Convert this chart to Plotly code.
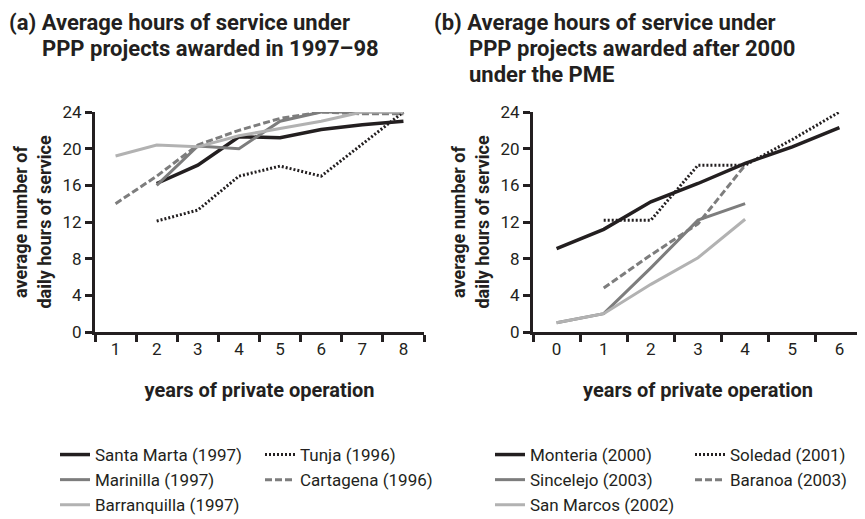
import plotly.graph_objects as go
from plotly.subplots import make_subplots

# panel (a): PPP projects awarded in 1997-98, years of private operation 1..8
years_a = [1, 2, 3, 4, 5, 6, 7, 8]
santa_marta = [None, 16.2, 18.2, 21.3, 21.2, 22.1, 22.6, 23.0]
tunja = [None, 12.1, 13.3, 17.0, 18.1, 17.0, 20.5, 24.0]
marinilla = [None, 16.0, 20.3, 20.0, 23.0, 24.0, 24.0, 24.0]
cartagena = [14.0, 17.0, 20.4, 22.0, 23.3, 24.0, 23.8, 23.8]
barranquilla = [19.2, 20.4, 20.2, 21.4, 22.2, 23.0, 24.0, 24.0]

# panel (b): PPP projects awarded after 2000 under the PME, years 0..6
years_b = [0, 1, 2, 3, 4, 5, 6]
monteria = [9.1, 11.2, 14.2, 16.2, 18.4, 20.2, 22.3]
soledad = [None, 12.2, 12.2, 18.2, 18.2, 21.0, 24.0]
sincelejo = [1.0, 2.0, 7.0, 12.2, 14.0, None, None]
baranoa = [None, 4.8, 8.4, 11.8, 18.2, None, None]
san_marcos = [1.0, 2.0, 5.2, 8.1, 12.3, None, None]

y_ticks = [0, 4, 8, 12, 16, 20, 24]

BLACK = "#231f20"
MID = "#7d7d7d"
LIGHT = "#b2b2b2"
FONT = "Roboto"
W, H = 865, 519
OFF = 8  # the page body adds an 8px margin, so place things 8px up/left


def px_x(p):
    return (p - OFF) / W


def px_y(p):
    return (H - (p - OFF)) / H


styles = {
    "solid_black": dict(color=BLACK, width=3.5),
    "dot_black": dict(color=BLACK, width=3, dash="2px,2px"),
    "solid_mid": dict(color=MID, width=3),
    "dash_mid": dict(color=MID, width=3, dash="7px,3px"),
    "solid_light": dict(color=LIGHT, width=3),
}

# (label, values, style, legend column)
panel_a = [
    ("Santa Marta (1997)", santa_marta, "solid_black", "legend"),
    ("Tunja (1996)", tunja, "dot_black", "legend2"),
    ("Marinilla (1997)", marinilla, "solid_mid", "legend"),
    ("Cartagena (1996)", cartagena, "dash_mid", "legend2"),
    ("Barranquilla (1997)", barranquilla, "solid_light", "legend"),
]
panel_b = [
    ("Monteria (2000)", monteria, "solid_black", "legend3"),
    ("Soledad (2001)", soledad, "dot_black", "legend4"),
    ("Sincelejo (2003)", sincelejo, "solid_mid", "legend3"),
    ("Baranoa (2003)", baranoa, "dash_mid", "legend4"),
    ("San Marcos (2002)", san_marcos, "solid_light", "legend3"),
]

fig = make_subplots(rows=1, cols=2)

for name, vals, st, lg in panel_a:
    fig.add_trace(
        go.Scatter(x=[str(v) for v in years_a], y=vals, mode="lines", name=name,
                   line=styles[st], legend=lg),
        row=1, col=1,
    )
for name, vals, st, lg in panel_b:
    fig.add_trace(
        go.Scatter(x=[str(v) for v in years_b], y=vals, mode="lines", name=name,
                   line=styles[st], legend=lg),
        row=1, col=2,
    )

axis_common = dict(
    showline=True, linecolor=BLACK, linewidth=3, ticks="outside", ticklen=7,
    tickwidth=3, tickcolor=BLACK, showgrid=False, zeroline=False, automargin=False,
    tickfont=dict(family=FONT, size=17, color=BLACK),
)
xtitle = dict(text="<b>years of private operation</b>",
              font=dict(family=FONT, size=20, color=BLACK), standoff=25)
ytitle = dict(text="<b>average number of<br>daily hours of service</b>",
              font=dict(family=FONT, size=18, color=BLACK), standoff=7)

fig.update_xaxes(axis_common)
fig.update_yaxes(axis_common)
fig.update_xaxes(type="category", categoryorder="array", tickson="boundaries",
                 title=xtitle)
fig.update_xaxes(categoryarray=[str(v) for v in years_a], range=[-0.5, len(years_a) - 0.5],
                 domain=[px_x(95), px_x(424)], row=1, col=1)
fig.update_xaxes(categoryarray=[str(v) for v in years_b], range=[-0.5, len(years_b) - 0.5],
                 domain=[px_x(533), px_x(863)], row=1, col=2)
fig.update_yaxes(range=[0, 24], tickvals=y_ticks, title=ytitle,
                 domain=[px_y(332), px_y(112)])

legend_common = dict(
    orientation="v", xanchor="left", yanchor="top", itemwidth=30,
    bgcolor="rgba(0,0,0,0)", font=dict(family=FONT, size=17, color=BLACK),
    tracegroupgap=0, y=px_y(437),
)

titles = [
    ("(a) Average hours of service under", 8, 22),
    ("PPP projects awarded in 1997\u201398", 41, 48),
    ("(b) Average hours of service under", 433, 22),
    ("PPP projects awarded after 2000", 468, 48),
    ("under the PME", 468, 75),
]
for text, px, py in titles:
    fig.add_annotation(
        text=f"<b>{text}</b>", xref="paper", yref="paper", x=px_x(px),
        y=px_y(py), xanchor="left", yanchor="middle", showarrow=False,
        borderpad=0, font=dict(family=FONT, size=22, color=BLACK),
    )

fig.update_layout(
    width=W, height=H, margin=dict(l=0, r=0, t=0, b=0, autoexpand=False),
    plot_bgcolor="white", paper_bgcolor="white",
    font=dict(family=FONT, color=BLACK),
    legend=dict(legend_common, x=px_x(55)),
    legend2=dict(legend_common, x=px_x(260)),
    legend3=dict(legend_common, x=px_x(490)),
    legend4=dict(legend_common, x=px_x(690)),
)

fig.write_html("out.html")
